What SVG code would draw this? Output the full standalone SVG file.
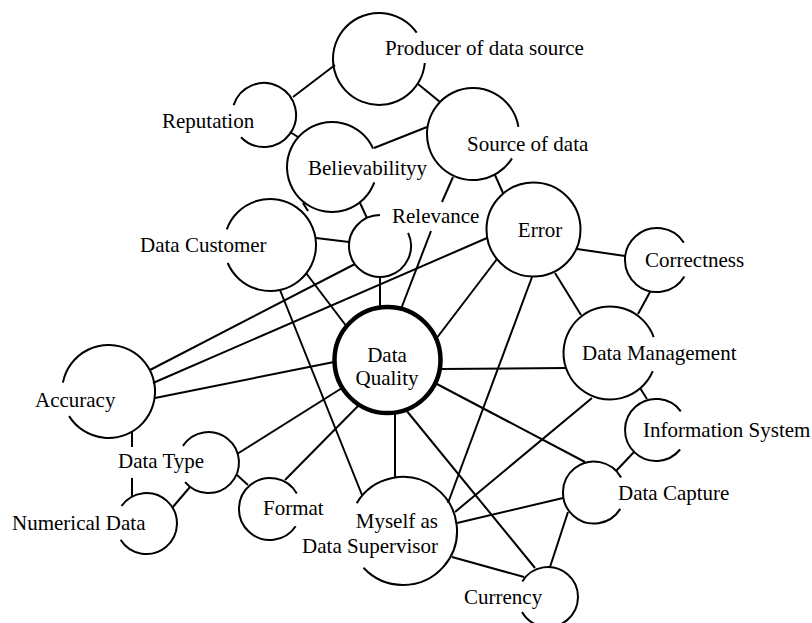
<svg xmlns="http://www.w3.org/2000/svg" width="812" height="623" viewBox="0 0 812 623">
<style>
.c{fill:none;stroke:#000;stroke-width:2}
.q{fill:none;stroke:#000;stroke-width:4.5}
.e line{stroke:#000;stroke-width:2}
text{font-family:"Liberation Serif","Times New Roman",serif;font-size:21px;fill:#000}
</style>
<rect width="812" height="623" fill="#fff"/>
<g class="e" id="connectors">
<line x1="293" y1="97" x2="335" y2="65"/>
<line x1="418" y1="84" x2="440" y2="102"/>
<line x1="290" y1="132" x2="298" y2="137"/>
<line x1="374" y1="148" x2="427" y2="127"/>
<line x1="453" y1="177" x2="442" y2="202"/>
<line x1="431" y1="231" x2="401" y2="309"/>
<line x1="495" y1="175" x2="503" y2="193"/>
<line x1="303" y1="203" x2="308" y2="211"/>
<line x1="360" y1="203" x2="367" y2="218"/>
<line x1="316" y1="238" x2="349" y2="242"/>
<line x1="306" y1="273" x2="347" y2="327"/>
<line x1="280" y1="290" x2="362" y2="495"/>
<line x1="355" y1="264" x2="150" y2="370"/>
<line x1="380" y1="277" x2="380" y2="307"/>
<line x1="497" y1="259" x2="436" y2="339"/>
<line x1="532" y1="277" x2="448" y2="503"/>
<line x1="555" y1="273" x2="581" y2="315"/>
<line x1="577" y1="249" x2="625" y2="256"/>
<line x1="650" y1="292" x2="638" y2="314"/>
<line x1="440" y1="369" x2="566" y2="368"/>
<line x1="435" y1="383" x2="585" y2="462"/>
<line x1="640" y1="388" x2="647" y2="399"/>
<line x1="592" y1="398" x2="455" y2="512"/>
<line x1="634" y1="452" x2="616" y2="471"/>
<line x1="395" y1="412" x2="395" y2="478"/>
<line x1="406" y1="410" x2="535" y2="568"/>
<line x1="457" y1="523" x2="563" y2="498"/>
<line x1="452" y1="557" x2="524" y2="577"/>
<line x1="568" y1="512" x2="550" y2="567"/>
<line x1="359" y1="405" x2="285" y2="480"/>
<line x1="342" y1="388" x2="237" y2="454"/>
<line x1="237" y1="475" x2="248" y2="485"/>
<line x1="190" y1="487" x2="172" y2="508"/>
<line x1="132" y1="432" x2="132" y2="447"/>
<line x1="132" y1="478" x2="132" y2="497"/>
<line x1="153" y1="383" x2="487" y2="238"/>
<line x1="155" y1="398" x2="334" y2="362"/>
</g>
<g id="producer"><path class="c" d="M424.8,63 A46,46 0 1 1 416.7,32.6"/><text x="385" y="55">Producer of data source</text></g>
<g id="reputation"><path class="c" d="M233.6,105.1 A32,32 0 1 1 241,137.2"/><text x="162" y="128">Reputation</text></g>
<g id="believability"><path class="c" d="M374.3,182.4 A45,45 0 1 1 373.1,148.7"/><text x="308" y="175">Believabilityy</text></g>
<g id="source"><path class="c" d="M512,158.4 A46,46 0 1 1 518.4,126.8"/><text x="467" y="151">Source of data</text></g>
<g id="customer"><path class="c" d="M226.8,229.3 A46,46 0 1 1 227.7,263"/><text x="140" y="252">Data Customer</text></g>
<g id="relevance"><path class="c" d="M408.1,232.9 A31,31 0 1 1 380,215"/><text x="392" y="223">Relevance</text></g>
<g id="error"><circle class="c" cx="533.5" cy="229.5" r="47"/><text x="540" y="237" text-anchor="middle">Error</text></g>
<g id="correctness"><path class="c" d="M684.4,276.5 A32,32 0 1 1 683.8,242.6"/><text x="645" y="267">Correctness</text></g>
<g id="management"><path class="c" d="M652.8,371.2 A46.5,46.5 0 1 1 653.7,337.1"/><text x="582" y="360">Data Management</text></g>
<g id="quality"><circle class="q" cx="387.5" cy="360" r="53"/><text x="387" y="362" text-anchor="middle">Data</text><text x="387" y="385" text-anchor="middle">Quality</text></g>
<g id="accuracy"><path class="c" d="M62.9,382.6 A46.5,46.5 0 1 1 69.1,416.1"/><text x="35" y="407">Accuracy</text></g>
<g id="datatype"><path class="c" d="M182.9,445.9 A30.5,30.5 0 1 1 185.1,482.1"/><text x="118" y="468">Data Type</text></g>
<g id="numerical"><path class="c" d="M121.5,506 A30.5,30.5 0 1 1 120.6,539.7"/><text x="12" y="530">Numerical Data</text></g>
<g id="format"><path class="c" d="M295.7,526.3 A31,31 0 1 1 296.8,493.5"/><text x="263" y="515">Format</text></g>
<g id="myself"><path class="c" d="M356.7,503.2 A54,54 0 1 1 363.5,567.8"/><text x="438" y="528" text-anchor="end">Myself as</text><text x="438" y="553" text-anchor="end">Data Supervisor</text></g>
<g id="capture"><path class="c" d="M620.3,508.9 A31,31 0 1 1 621.1,477.5"/><text x="618" y="500">Data Capture</text></g>
<g id="infosys"><path class="c" d="M680.1,449.5 A31,31 0 1 1 680.8,411.3"/><text x="643" y="437">Information System</text></g>
<g id="currency"><path class="c" d="M522.3,581.5 A30,30 0 1 1 522,612"/><text x="464" y="604">Currency</text></g>
</svg>
